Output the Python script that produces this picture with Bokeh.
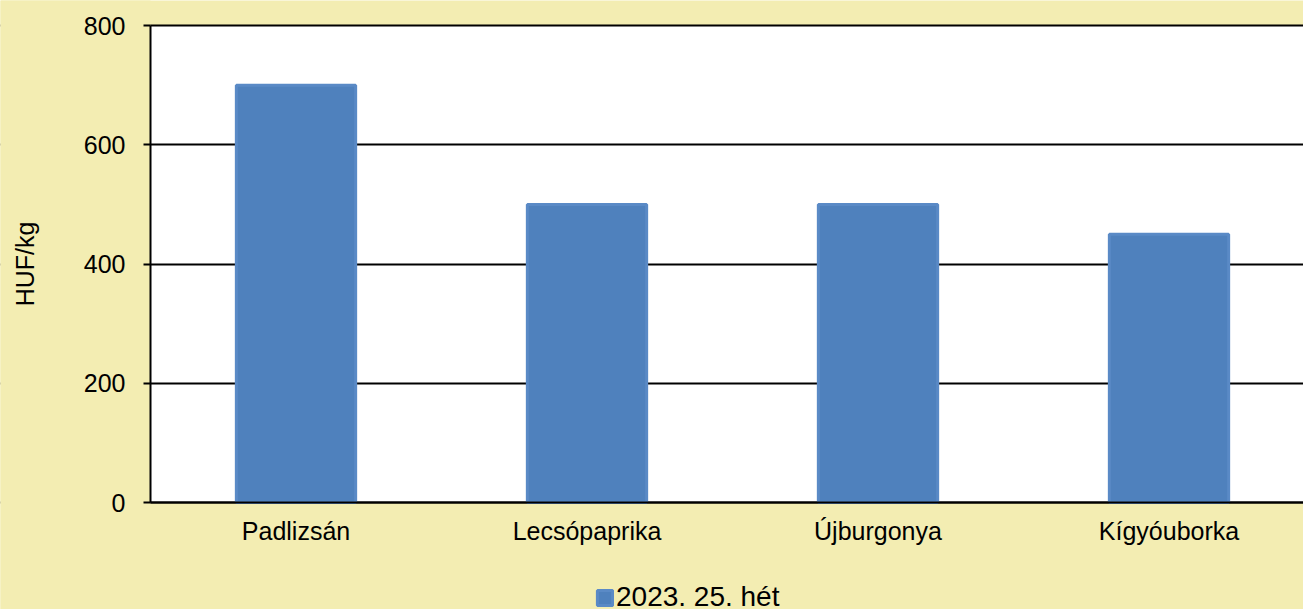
import math
from bokeh.plotting import figure
from bokeh.models import (Range1d, FixedTicker, Legend, LegendItem, ColumnDataSource,
                          BoxAnnotation, Label)
from bokeh.embed import file_html
from bokeh.resources import INLINE

categories = ["Padlizsán", "Lecsópaprika", "Újburgonya", "Kígyóuborka"]
values = [700, 500, 500, 450]
series_name = "2023. 25. hét"
y_title = "HUF/kg"
y_ticks = [0, 200, 400, 600, 800]

BG = "#F3EDB2"
BAR = "#4F81BD"
BAR_EDGE = "#5A8AC6"
FONT = "Liberation Sans"

# layout (pixels)
W, H = 1303, 609
LEFT, TOP_AXIS, BOTTOM_AXIS = 150, 25, 502
YTITLE_X = 24
spacing = 291.0
ppu = (BOTTOM_AXIS - TOP_AXIS) / 800.0

idx = list(range(len(categories)))
src = ColumnDataSource(dict(x=idx, top=values, cat=categories))

x_axis_pos = -0.5
x_start = x_axis_pos - LEFT / spacing
x_end = x_start + W / spacing
y_end = 800 + TOP_AXIS / ppu
y_start = -(H - BOTTOM_AXIS) / ppu

p = figure(width=W, height=H, output_backend="svg", toolbar_location=None,
           x_range=Range1d(x_start, x_end), y_range=Range1d(y_start, y_end),
           min_border_left=0, min_border_right=0, min_border_top=0,
           min_border_bottom=0)
p.border_fill_color = BG
p.background_fill_color = BG
p.outline_line_color = None

# white plot area
p.add_layout(BoxAnnotation(left=x_axis_pos, bottom=0, top=800, fill_color="white",
                           fill_alpha=1, line_color=None, level="image"))

r = p.vbar(x="x", top="top", source=src, width=0.41, fill_color=BAR,
           line_color=BAR_EDGE, line_width=3)

# grid
p.xgrid.grid_line_color = None
p.ygrid.ticker = FixedTicker(ticks=y_ticks)
p.ygrid.grid_line_color = "black"
p.ygrid.grid_line_width = 2
# keep the margin left of the plot area free of grid lines
p.add_layout(BoxAnnotation(left=x_start - 0.2, right=x_axis_pos,
                           bottom=y_start - 50, top=y_end + 50,
                           fill_color=BG, fill_alpha=1,
                           line_color=None, level="underlay"))

# y axis (fixed at the left edge of the plot area)
ya = p.yaxis[0]
ya.fixed_location = x_axis_pos
ya.ticker = FixedTicker(ticks=y_ticks)
ya.bounds = (0, 800)
ya.major_label_text_font = FONT
ya.major_label_text_font_size = "25px"
ya.major_label_text_color = "black"
ya.major_label_standoff = 18
ya.axis_line_color = "black"
ya.axis_line_width = 2
ya.major_tick_line_color = "black"
ya.major_tick_line_width = 2
ya.major_tick_in = 0
ya.major_tick_out = 7
ya.minor_tick_line_color = None

p.add_layout(Label(x=x_start + YTITLE_X / spacing, y=(y_ticks[0] + y_ticks[-1]) / 2,
                   text=y_title, angle=math.pi / 2, text_align="center",
                   text_baseline="middle", text_font=FONT, text_font_size="25px",
                   text_color="black"))

# x axis (fixed at y = 0)
xa = p.xaxis[0]
xa.fixed_location = 0
xa.bounds = (x_axis_pos, x_end)
xa.ticker = FixedTicker(ticks=idx)
xa.major_label_overrides = {i: c for i, c in zip(idx, categories)}
xa.major_label_text_font = FONT
xa.major_label_text_font_size = "25px"
xa.major_label_text_color = "black"
xa.major_label_standoff = 8
xa.axis_line_color = "black"
xa.axis_line_width = 2
xa.major_tick_line_color = None
xa.minor_tick_line_color = None

legend = Legend(items=[LegendItem(label=series_name, renderers=[r])],
                location=(595, -4), orientation="horizontal",
                background_fill_alpha=0, border_line_color=None,
                label_text_font=FONT, label_text_font_size="28px",
                label_text_color="black",
                glyph_width=19, glyph_height=19, label_standoff=2,
                padding=0, margin=0, spacing=0)
p.add_layout(legend, "center")

open("out.html", "w").write(file_html(p, INLINE))
